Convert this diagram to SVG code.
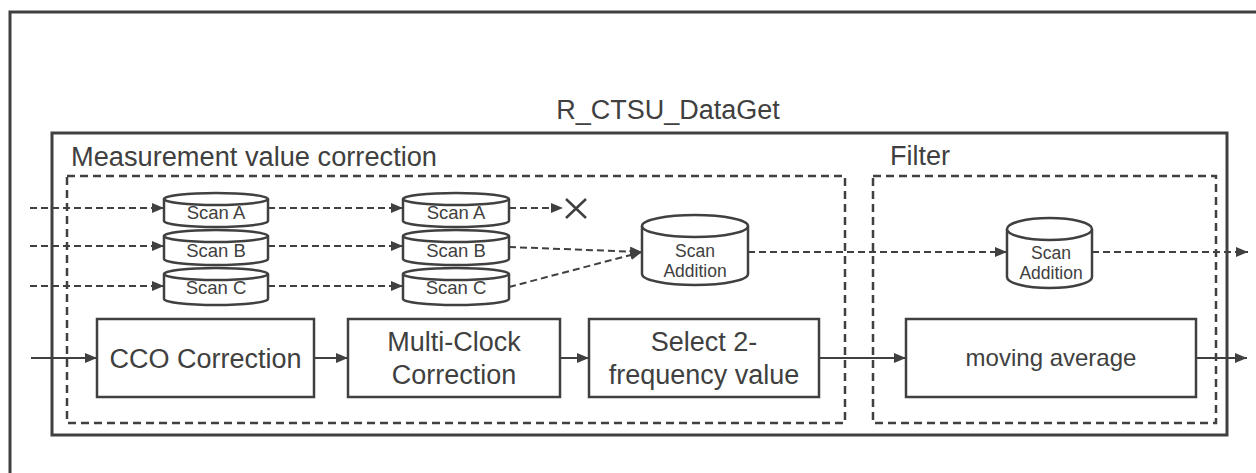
<svg xmlns="http://www.w3.org/2000/svg" width="1256" height="473" viewBox="0 0 1256 473">
<style>
  text { font-family: "Liberation Sans", Arial, sans-serif; fill: #404040; }
  .frame { fill: none; stroke: #404040; stroke-width: 3; }
  .dash { fill: none; stroke: #404040; stroke-width: 2.5; stroke-dasharray: 8 5; }
  .box { fill: #ffffff; stroke: #404040; stroke-width: 2.5; }
  .cyl { fill: #ffffff; stroke: #404040; stroke-width: 2.5; }
  .solid { fill: none; stroke: #404040; stroke-width: 2; }
  .dline { fill: none; stroke: #404040; stroke-width: 2; stroke-dasharray: 7 4; }
  .big { font-size: 27px; }
  .scan { font-size: 18.5px; text-anchor: middle; }
  .add { font-size: 17.5px; text-anchor: middle; }
  .lbl { font-size: 27px; text-anchor: middle; }
</style>
<defs>
  <marker id="arr" viewBox="0 0 12 10" refX="12" refY="5" markerWidth="12" markerHeight="10" markerUnits="userSpaceOnUse" orient="auto">
    <path d="M0,0 L12,5 L0,10 z" fill="#404040"/>
  </marker>
</defs>
<rect width="1256" height="473" fill="#ffffff"/>

<g id="frame-outer">
  <polyline class="frame" points="10,473 10,12 1256,12" stroke-width="3.5"/>
</g>
<g id="r-ctsu-dataget">
  <rect class="frame" x="52" y="133" width="1175" height="302"/>
  <text x="668" y="119" class="big" text-anchor="middle">R_CTSU_DataGet</text>
</g>
<g id="measurement-group">
  <rect class="dash" x="67" y="176" width="778" height="247"/>
  <text x="71" y="166" class="big" textLength="366" lengthAdjust="spacingAndGlyphs">Measurement value correction</text>
</g>
<g id="filter-group">
  <rect class="dash" x="873" y="176" width="343" height="247"/>
  <text x="890" y="165" class="big">Filter</text>
</g>

<g id="connectors">
  <line class="dline" x1="30" y1="208" x2="164" y2="208" marker-end="url(#arr)"/>
  <line class="dline" x1="30" y1="246" x2="164" y2="246" marker-end="url(#arr)"/>
  <line class="dline" x1="30" y1="286" x2="164" y2="286" marker-end="url(#arr)"/>
  <line class="dline" x1="268" y1="208" x2="403" y2="208" marker-end="url(#arr)"/>
  <line class="dline" x1="268" y1="246" x2="403" y2="246" marker-end="url(#arr)"/>
  <line class="dline" x1="268" y1="286" x2="403" y2="286" marker-end="url(#arr)"/>
  <line class="dline" x1="509" y1="208" x2="563" y2="208" marker-end="url(#arr)"/>
  <line class="dline" x1="509" y1="247" x2="642" y2="252" marker-end="url(#arr)"/>
  <line class="dline" x1="509" y1="287" x2="642" y2="252" marker-end="url(#arr)"/>
  <line class="dline" x1="748" y1="252" x2="1007" y2="252" marker-end="url(#arr)"/>
  <line class="dline" x1="1092" y1="252" x2="1248" y2="252" marker-end="url(#arr)"/>
  <line class="solid" x1="31" y1="358" x2="97" y2="358" marker-end="url(#arr)"/>
  <line class="solid" x1="314" y1="358" x2="348" y2="358" marker-end="url(#arr)"/>
  <line class="solid" x1="560" y1="358" x2="589" y2="358" marker-end="url(#arr)"/>
  <line class="solid" x1="819" y1="358" x2="906" y2="358" marker-end="url(#arr)"/>
  <line class="solid" x1="1196" y1="358" x2="1247" y2="358" marker-end="url(#arr)"/>
</g>

<g id="discard-x">
  <path d="M566,199 L586,218 M586,199 L566,218" stroke="#404040" stroke-width="2.5" fill="none"/>
</g>

<g id="scan-a-1">
  <path class="cyl" d="M164,199 L164,221 A52,6 0 0 0 268,221 L268,199"/>
  <ellipse class="cyl" cx="216" cy="199" rx="52" ry="6"/>
  <text x="216" y="219" class="scan">Scan A</text>
</g>
<g id="scan-b-1">
  <path class="cyl" d="M164,236 L164,259 A52,6 0 0 0 268,259 L268,236"/>
  <ellipse class="cyl" cx="216" cy="236" rx="52" ry="6"/>
  <text x="216" y="257" class="scan">Scan B</text>
</g>
<g id="scan-c-1">
  <path class="cyl" d="M164,274 L164,299 A52,6 0 0 0 268,299 L268,274"/>
  <ellipse class="cyl" cx="216" cy="274" rx="52" ry="6"/>
  <text x="216" y="294" class="scan">Scan C</text>
</g>

<g id="scan-a-2">
  <path class="cyl" d="M403,199 L403,221 A53,6 0 0 0 509,221 L509,199"/>
  <ellipse class="cyl" cx="456" cy="199" rx="53" ry="6"/>
  <text x="456" y="219" class="scan">Scan A</text>
</g>
<g id="scan-b-2">
  <path class="cyl" d="M403,236 L403,259 A53,6 0 0 0 509,259 L509,236"/>
  <ellipse class="cyl" cx="456" cy="236" rx="53" ry="6"/>
  <text x="456" y="257" class="scan">Scan B</text>
</g>
<g id="scan-c-2">
  <path class="cyl" d="M403,274 L403,299 A53,6 0 0 0 509,299 L509,274"/>
  <ellipse class="cyl" cx="456" cy="274" rx="53" ry="6"/>
  <text x="456" y="294" class="scan">Scan C</text>
</g>

<g id="scan-addition-1">
  <path class="cyl" d="M642,226 L642,274 A53,11 0 0 0 748,274 L748,226"/>
  <ellipse class="cyl" cx="695" cy="226" rx="53" ry="11"/>
  <text x="695" y="257" class="add">Scan</text>
  <text x="695" y="277" class="add">Addition</text>
</g>
<g id="scan-addition-2">
  <path class="cyl" d="M1007,229 L1007,277 A42.5,11 0 0 0 1092,277 L1092,229"/>
  <ellipse class="cyl" cx="1049.5" cy="229" rx="42.5" ry="11"/>
  <text x="1051" y="259" class="add">Scan</text>
  <text x="1051" y="279" class="add">Addition</text>
</g>

<g id="cco-correction">
  <rect class="box" x="97" y="319" width="217" height="78"/>
  <text x="205.5" y="368" class="lbl">CCO Correction</text>
</g>
<g id="multi-clock-correction">
  <rect class="box" x="348" y="319" width="212" height="78"/>
  <text x="454" y="351" class="lbl">Multi-Clock</text>
  <text x="454" y="384" class="lbl">Correction</text>
</g>
<g id="select-2-frequency">
  <rect class="box" x="589" y="319" width="230" height="78"/>
  <text x="704" y="351" class="lbl">Select 2-</text>
  <text x="704" y="384" class="lbl">frequency value</text>
</g>
<g id="moving-average">
  <rect class="box" x="906" y="319" width="290" height="78"/>
  <text x="1051" y="366" class="lbl" style="font-size:24px">moving average</text>
</g>
</svg>
